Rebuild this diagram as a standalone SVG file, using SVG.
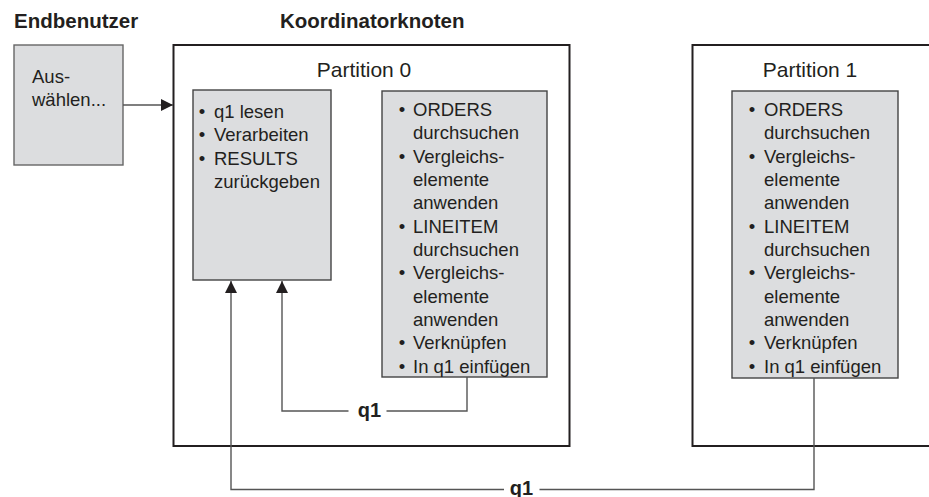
<svg xmlns="http://www.w3.org/2000/svg" width="929" height="497" viewBox="0 0 929 497">
<style>
text{font-family:"Liberation Sans",Arial,sans-serif;fill:#231f20}
.hd{font-size:20.5px;font-weight:bold}
.ti{font-size:21px;text-anchor:middle}
.bd{font-size:18.5px}
.lb{font-size:20px;font-weight:bold;text-anchor:middle}
.outer{fill:#fff;stroke:#231f20;stroke-width:2}
.inner{fill:#dcdddf;stroke:#444;stroke-width:1.4}
.conn{fill:none;stroke:#555;stroke-width:1.4}
</style>
<defs>
<marker id="ah" viewBox="0 0 12 12" refX="12" refY="6" markerWidth="12" markerHeight="12" markerUnits="userSpaceOnUse" orient="auto">
<path d="M0,0 L12,6 L0,12 Z" fill="#231f20"/>
</marker>
</defs>
<text class="hd" x="14" y="28">Endbenutzer</text>
<text class="hd" x="280" y="28">Koordinatorknoten</text>

<g id="partition0">
<rect class="outer" x="173.5" y="45" width="396" height="401"/>
<text class="ti" x="364" y="77">Partition 0</text>
</g>
<g id="partition1">
<rect class="outer" x="692.5" y="45" width="260" height="401"/>
<text class="ti" x="810" y="77">Partition 1</text>
</g>

<g id="user">
<rect class="inner" x="14" y="45" width="109" height="120" style="stroke:#666"/>
<text class="bd" x="32" y="83.3">Aus-<tspan x="32" y="106">wählen...</tspan></text>
</g>

<g id="coord-main">
<rect class="inner" x="193" y="90" width="138" height="190"/>
<text class="bd">
<tspan x="198.8" y="118">•</tspan><tspan x="214" y="118">q1 lesen</tspan>
<tspan x="198.8" y="141.3">•</tspan><tspan x="214" y="141.3">Verarbeiten</tspan>
<tspan x="198.8" y="164.6">•</tspan><tspan x="214" y="164.6">RESULTS</tspan>
<tspan x="214" y="188">zurückgeben</tspan>
</text>
</g>

<g id="coord-sub">
<rect class="inner" x="382" y="91" width="165" height="286"/>
<text class="bd">
<tspan x="398.8" y="116">•</tspan><tspan x="413" y="116">ORDERS</tspan>
<tspan x="413" y="139.3">durchsuchen</tspan>
<tspan x="398.8" y="162.7">•</tspan><tspan x="413" y="162.7">Vergleichs-</tspan>
<tspan x="413" y="186">elemente</tspan>
<tspan x="413" y="209.3">anwenden</tspan>
<tspan x="398.8" y="232.7">•</tspan><tspan x="413" y="232.7">LINEITEM</tspan>
<tspan x="413" y="256">durchsuchen</tspan>
<tspan x="398.8" y="279.3">•</tspan><tspan x="413" y="279.3">Vergleichs-</tspan>
<tspan x="413" y="302.7">elemente</tspan>
<tspan x="413" y="326">anwenden</tspan>
<tspan x="398.8" y="349.3">•</tspan><tspan x="413" y="349.3">Verknüpfen</tspan>
<tspan x="398.8" y="372.7">•</tspan><tspan x="413" y="372.7">In q1 einfügen</tspan>
</text>
</g>

<g id="p1-sub">
<rect class="inner" x="732" y="91" width="166" height="287"/>
<text class="bd">
<tspan x="748.8" y="116">•</tspan><tspan x="764" y="116">ORDERS</tspan>
<tspan x="764" y="139.3">durchsuchen</tspan>
<tspan x="748.8" y="162.7">•</tspan><tspan x="764" y="162.7">Vergleichs-</tspan>
<tspan x="764" y="186">elemente</tspan>
<tspan x="764" y="209.3">anwenden</tspan>
<tspan x="748.8" y="232.7">•</tspan><tspan x="764" y="232.7">LINEITEM</tspan>
<tspan x="764" y="256">durchsuchen</tspan>
<tspan x="748.8" y="279.3">•</tspan><tspan x="764" y="279.3">Vergleichs-</tspan>
<tspan x="764" y="302.7">elemente</tspan>
<tspan x="764" y="326">anwenden</tspan>
<tspan x="748.8" y="349.3">•</tspan><tspan x="764" y="349.3">Verknüpfen</tspan>
<tspan x="748.8" y="372.7">•</tspan><tspan x="764" y="372.7">In q1 einfügen</tspan>
</text>
</g>

<g id="connectors">
<path class="conn" d="M123,105 H173" marker-end="url(#ah)"/>
<path class="conn" d="M348.5,411 H282 V281" marker-end="url(#ah)"/>
<path class="conn" d="M386.5,411 H467 V377"/>
<path class="conn" d="M504,489.5 H231 V281" marker-end="url(#ah)"/>
<path class="conn" d="M539.5,489.5 H814 V378"/>
<text class="lb" x="369.5" y="416.5">q1</text>
<text class="lb" x="521.5" y="495">q1</text>
</g>
</svg>
